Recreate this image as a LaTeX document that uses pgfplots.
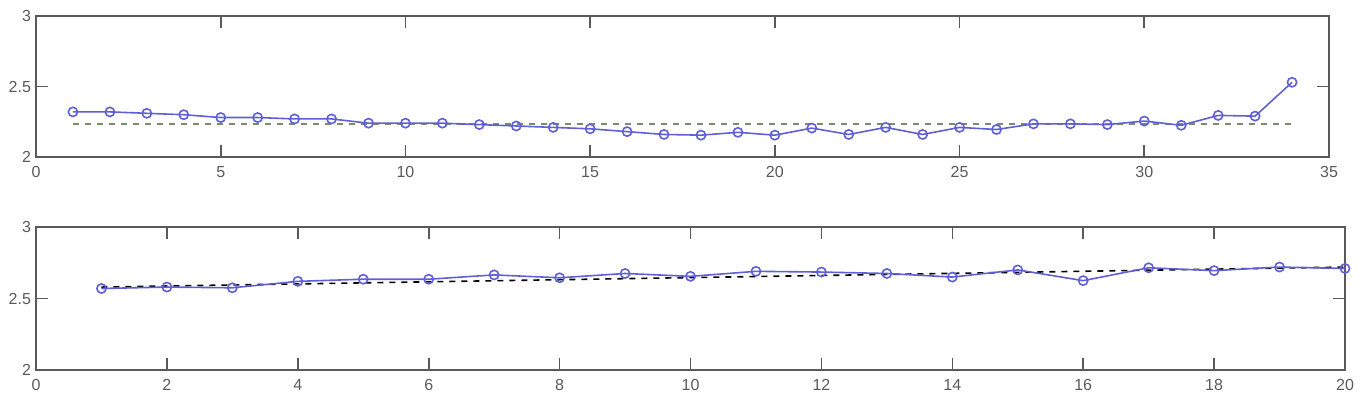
\documentclass[border=0pt]{standalone}
\usepackage{fontspec}
\setmainfont{Liberation Sans}
\usepackage{pgfplots}
\pgfplotsset{compat=1.18}

\definecolor{dblue}{RGB}{95,95,215}
\definecolor{refgreen}{RGB}{120,140,110}
\definecolor{axgray}{RGB}{90,90,90}

\pgfplotsset{
  matlab/.style={
    scale only axis,
    axis line style={axgray, line width=1pt},
    tick style={axgray, line width=0.8pt},
    tick align=inside,
    xtick pos=both, ytick pos=both,
    major tick length=6pt,
    ymin=2, ymax=3,
    ytick={2,2.5,3},
    yticklabels={2,2.5,3},
    tick label style={font=\fontsize{8}{9}\selectfont, text=axgray},
    /pgf/number format/assume math mode=true,
    xticklabel style={yshift=-1pt},
    yticklabel style={xshift=1pt},
  },
  dataline/.style={dblue, line width=0.8pt, mark=o,
    mark options={solid, line width=0.8pt}, mark size=2.3pt},
}

\begin{document}
\begin{tikzpicture}
\useasboundingbox (0,0) rectangle (683pt,-202pt);

\begin{axis}[matlab,
  at={(18pt,-8pt)}, anchor=north west,
  width=646.5pt, height=70.5pt,
  xmin=0, xmax=35,
  xtick={0,5,10,15,20,25,30,35},
  ]
\addplot[refgreen, dashed, line width=0.8pt] coordinates {(1,2.235) (34,2.235)};
\addplot[dataline] coordinates {
(1,2.32) (2,2.32) (3,2.31) (4,2.30) (5,2.28) (6,2.28) (7,2.27) (8,2.27)
(9,2.24) (10,2.24) (11,2.24) (12,2.23) (13,2.22) (14,2.21) (15,2.20)
(16,2.18) (17,2.16) (18,2.155) (19,2.175) (20,2.155) (21,2.205) (22,2.16)
(23,2.21) (24,2.16) (25,2.21) (26,2.195) (27,2.235) (28,2.235) (29,2.23)
(30,2.255) (31,2.225) (32,2.295) (33,2.29) (34,2.53)
};
\end{axis}

\begin{axis}[matlab,
  at={(18pt,-113.5pt)}, anchor=north west,
  width=654.5pt, height=71.5pt,
  xmin=0, xmax=20,
  xtick={0,2,...,20},
  ]
\addplot[black, dashed, line width=0.8pt] coordinates {(1,2.58) (20,2.72)};
\addplot[dataline] coordinates {
(1,2.57) (2,2.58) (3,2.575) (4,2.62) (5,2.635) (6,2.635) (7,2.665) (8,2.645)
(9,2.675) (10,2.655) (11,2.69) (12,2.685) (13,2.675) (14,2.65) (15,2.70)
(16,2.625) (17,2.715) (18,2.695) (19,2.72) (20,2.71)
};
\end{axis}
\end{tikzpicture}
\end{document}
